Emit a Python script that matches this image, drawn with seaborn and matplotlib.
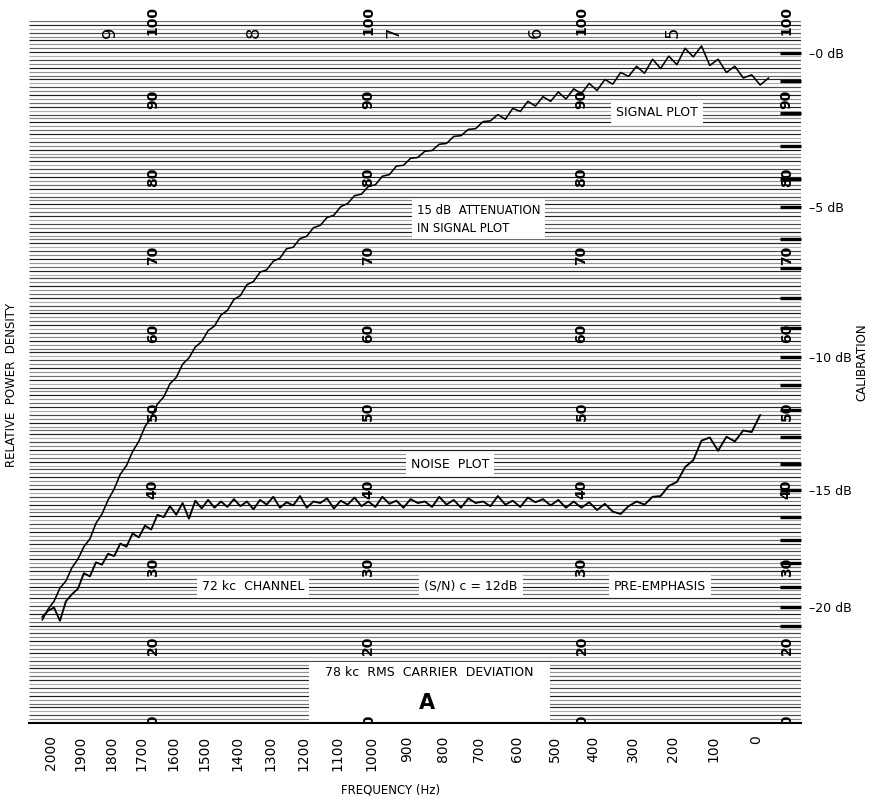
import numpy as np
import pandas as pd
import matplotlib
matplotlib.use("Agg")
import matplotlib.pyplot as plt
import seaborn as sns
from matplotlib.patches import Rectangle
from matplotlib.ticker import NullLocator

# ---------------- data (paper scale 10..100) ----------------
freq_signal = list(range(2030, -31, -20))      # Hz, sample grid of the traced curve
signal_level = [
    23.2, 24.6, 25.6, 27.3, 28.2, 29.9, 31.0, 32.6, 33.6, 35.6,
    36.8, 38.6, 40.0, 41.9, 43.0, 44.8, 46.1, 48.0, 49.2, 50.9,
    51.8, 53.5, 54.3, 56.0, 56.8, 58.2, 58.9, 60.3, 60.9, 62.3,
    62.9, 64.3, 64.8, 66.2, 66.6, 67.8, 68.1, 69.2, 69.6, 70.8,
    71.0, 72.1, 72.4, 73.5, 73.8, 74.8, 75.1, 76.2, 76.6, 77.6,
    77.8, 78.8, 79.0, 80.1, 80.3, 81.4, 81.5, 82.4, 82.5, 83.3,
    83.4, 84.2, 84.3, 85.2, 85.3, 86.1, 86.2, 87.1, 87.2, 88.0,
    87.4, 88.8, 88.4, 89.7, 89.1, 90.3, 89.7, 90.9, 90.0, 91.3,
    90.7, 92.0, 91.1, 92.5, 91.9, 93.4, 92.9, 94.2, 93.3, 95.1,
    93.9, 95.5, 94.4, 96.5, 95.4, 96.8, 94.3, 95.1, 93.4, 94.2,
    92.7, 93.1, 91.8, 92.7,
]
freq_noise = list(range(2030, -11, -20))
noise_level = [
    23.6, 24.4, 24.8, 23.1, 25.6, 26.5, 27.2, 29.2, 28.8, 30.6,
    30.3, 31.7, 31.4, 33.0, 32.6, 34.3, 33.8, 35.3, 34.8, 36.7,
    36.4, 37.8, 36.7, 38.2, 36.2, 38.5, 37.5, 38.6, 37.6, 38.4,
    37.7, 38.7, 37.8, 38.4, 37.4, 38.6, 38.0, 39.0, 37.6, 38.3,
    37.9, 39.1, 37.6, 38.4, 38.2, 38.8, 37.5, 38.5, 38.0, 38.9,
    37.8, 38.4, 37.7, 39.0, 38.1, 38.5, 37.6, 38.7, 38.2, 38.4,
    37.7, 39.0, 38.0, 38.6, 37.6, 38.8, 38.2, 38.4, 37.8, 39.1,
    38.0, 38.5, 37.7, 38.9, 38.3, 38.7, 37.9, 38.6, 37.6, 38.4,
    37.6, 38.3, 37.3, 38.1, 37.1, 36.8, 37.8,
    38.4, 38.0, 39.0, 39.1, 40.4, 40.9, 42.8, 43.7, 46.2, 46.6,
    44.9, 46.7, 46.1, 47.5, 47.3, 49.5,
]

freq_ticks = list(range(2000, -1, -100))
freq_tick_labels = [str(f) for f in freq_ticks]

cal_db = list(range(0, -22, -1))
cal_level = [95.9, 92.3, 88.2, 84.0, 79.7, 76.2, 72.1, 68.3, 64.5, 60.6, 56.9,
             53.3, 50.1, 46.7, 43.2, 39.9, 36.4, 33.5, 30.5, 27.4, 24.9, 22.4]

paper_values = [100, 90, 80, 70, 60, 50, 40, 30, 20, 10]
paper_columns_hz = [1665, 1010, 430, -72]
chart_digits = ["9", "8", "7", "6", "5"]
chart_digit_hz = [1804, 1348, 937, 549, 200]

df_sig = pd.DataFrame({"freq": freq_signal, "level": signal_level, "trace": "signal"})
df_noise = pd.DataFrame({"freq": freq_noise, "level": noise_level, "trace": "noise"})

# ---------------- figure ----------------
sns.set_theme(style="white")
plt.rcParams["font.family"] = ["DejaVu Sans"]

W, H = 871, 802
fig = plt.figure(figsize=(W / 100, H / 100), dpi=100)
AX_L, AX_R, AX_T, AX_B = 29, 801, 21, 723
ax = fig.add_axes([AX_L / W, 1 - AX_B / H, (AX_R - AX_L) / W, (AX_B - AX_T) / H])
ax.set_zorder(1)
ax.patch.set_visible(False)


def fxy(px, py):
    return px / W, 1 - py / H


def axy(px, py):
    return (px - AX_L) / (AX_R - AX_L), (AX_B - py) / (AX_B - AX_T)


# recorder paper frequency scale
ax.set_xscale("function", functions=(lambda f: np.log(np.asarray(f, float) + 4600.0),
                                     lambda x: np.exp(x) - 4600.0))
ax.set_xlim(2075, -105)
ax.set_ylim(10, 100)

# horizontal recorder-paper lines
levels = np.arange(10, 100.01, 0.5)
shades = ["#1c1c1c", "#8a8a8a", "#4a4a4a", "#b0b0b0", "#262626", "#6e6e6e", "#969696"]
cols = [shades[i % len(shades)] for i in range(len(levels))]
ax.hlines(levels, 0, 1, transform=ax.get_yaxis_transform(), colors=cols,
          linewidths=0.85, zorder=1)

# white label area at the bottom
x0, y0 = axy(309, 721)
x1, y1 = axy(550, 662)
ax.add_patch(Rectangle((x0, y0), x1 - x0, y1 - y0, transform=ax.transAxes,
                       facecolor="white", edgecolor="none", zorder=2))

sns.lineplot(data=df_sig, x="freq", y="level", ax=ax, color="black", lw=1.15,
             sort=False, estimator=None, legend=False, zorder=3)
sns.lineplot(data=df_noise, x="freq", y="level", ax=ax, color="black", lw=1.35,
             sort=False, estimator=None, legend=False, zorder=3)

# paper scale numbers
for col in paper_columns_hz:
    for v in paper_values:
        ax.text(col, v, str(v), rotation=90, ha="center", va="center", fontsize=10,
                fontweight="bold", color="black", zorder=4, clip_on=(v == 10))
for d, f in zip(chart_digits, chart_digit_hz):
    ax.text(f, 98.5, d, rotation=90, ha="center", va="center", fontsize=13,
            color="black", zorder=4, clip_on=False)

ax.set_xticks(freq_ticks)
ax.set_xticklabels(freq_tick_labels, rotation=90, fontsize=10)
ax.xaxis.set_minor_locator(NullLocator())
ax.set_yticks([])
ax.tick_params(axis="x", direction="in", length=12, width=1.8, pad=9, colors="black")
ax.set_xlabel("")
ax.set_ylabel("")
for s in ["top", "left", "right"]:
    ax.spines[s].set_visible(False)
ax.spines["bottom"].set_linewidth(1.5)
ax.spines["bottom"].set_color("black")

# calibration scale on the right
ax2 = ax.twinx()
ax2.set_ylim(10, 100)
ax2.set_yticks(cal_level)
ax2.set_yticklabels([f"\u2013{abs(d)} dB" if d % 5 == 0 else "" for d in cal_db], fontsize=9)
ax2.tick_params(axis="y", direction="in", length=15, width=2.4, pad=6, colors="black")
for s in ax2.spines.values():
    s.set_visible(False)
ax2.set_zorder(2)

# annotations
txt = dict(color="black", zorder=6)
box = dict(facecolor="white", edgecolor="none", pad=3.5)
fig.text(*fxy(657, 113), "SIGNAL PLOT", ha="center", va="center", fontsize=9, bbox=box, **txt)
fig.text(*fxy(417, 219), "15 dB  ATTENUATION\nIN SIGNAL PLOT", ha="left", va="center",
         fontsize=8.5, linespacing=1.5, bbox=box, **txt)
fig.text(*fxy(450, 465), "NOISE  PLOT", ha="center", va="center", fontsize=9, bbox=box, **txt)
fig.text(*fxy(253, 587), "72 kc  CHANNEL", ha="center", va="center", fontsize=9, bbox=box, **txt)
fig.text(*fxy(471, 586), "(S/N) c = 12dB", ha="center", va="center", fontsize=9, bbox=box, **txt)
fig.text(*fxy(660, 586), "PRE-EMPHASIS", ha="center", va="center", fontsize=9, bbox=box, **txt)
fig.text(*fxy(429, 673), "78 kc  RMS  CARRIER  DEVIATION", ha="center", va="center",
         fontsize=9, **txt)
fig.text(*fxy(427, 703), "A", ha="center", va="center", fontsize=15, fontweight="bold", **txt)

fig.text(*fxy(12, 385), "RELATIVE  POWER  DENSITY", rotation=90, ha="center", va="center",
         fontsize=8.5, **txt)
fig.text(*fxy(862, 362), "CALIBRATION", rotation=90, ha="center", va="center",
         fontsize=8.5, **txt)
fig.text(*fxy(391, 790), "FREQUENCY (Hz)", ha="center", va="center", fontsize=8.5, **txt)

fig.savefig("out.png", dpi=100, facecolor="white")
